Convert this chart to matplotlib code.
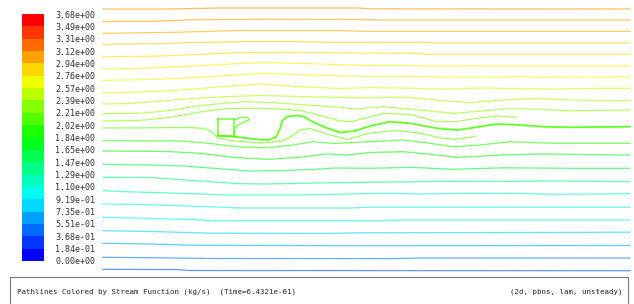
import colorsys
import numpy as np
import matplotlib
matplotlib.use('Agg')
import matplotlib.pyplot as plt
from matplotlib.colors import ListedColormap, LinearSegmentedColormap, BoundaryNorm, Normalize
from matplotlib.patches import Rectangle

# stream function range of the colour scale (kg/s)
psi_max = 3.6757
n_bands = 20
tick_labels = ['0.00e+00', '1.84e-01', '3.68e-01', '5.51e-01', '7.35e-01', '9.19e-01',
               '1.10e+00', '1.29e+00', '1.47e+00', '1.65e+00', '1.84e+00', '2.02e+00',
               '2.21e+00', '2.39e+00', '2.57e+00', '2.76e+00', '2.94e+00', '3.12e+00',
               '3.31e+00', '3.49e+00', '3.68e+00']

title_left = 'Pathlines Colored by Stream Function (kg/s)  (Time=6.4321e-01)'
title_right = '(2d, pbns, lam, unsteady)'

# pathlines, (x, y) along the channel, top to bottom
path_01 = [(103, 9), (170, 9), (200, 8.4), (218, 8), (357, 8), (370, 8.8), (630, 9)]
path_02 = [(103, 21.5), (152, 21.3), (170, 20.7), (190, 19.8), (250, 19.3), (347, 19.4), (380, 20), (630, 20)]
path_03 = [(103, 33.3), (140, 32.8), (175, 32.3), (210, 31.3), (240, 30.5), (340, 30.6), (360, 31.3), (630, 31.3)]
path_04 = [(103, 44.3), (163, 43.6), (190, 42.6), (253, 41.5), (293, 41.6), (335, 42.4), (425, 42.4), (440, 43), (630, 43)]
path_05 = [(103, 56.7), (130, 56.5), (160, 56), (200, 54.3), (240, 52.7), (300, 52.3), (340, 52.9), (410, 53.4),
           (430, 54.3), (630, 54.3)]
path_06 = [(103, 69), (125, 68.8), (150, 67.8), (200, 65.7), (230, 64), (250, 63), (285, 63), (320, 64), (360, 65.2),
           (405, 65.4), (420, 66), (630, 66)]
path_07 = [(103, 80.3), (125, 80), (160, 79.3), (210, 76.7), (250, 74), (270, 73.5), (300, 74.5), (320, 75.3),
           (360, 76.3), (420, 76.3), (440, 77.3), (460, 77), (525, 76.8), (545, 77.4), (565, 77), (630, 76.8)]
path_08 = [(103, 92.7), (140, 92), (180, 90), (223, 86.7), (260, 84), (300, 86.7), (340, 88.5), (370, 87.5),
           (410, 88.2), (445, 89), (480, 88), (515, 88.5), (550, 89), (600, 88.3), (630, 88.3)]
path_09 = [(103, 104), (130, 103.5), (160, 101), (200, 98), (230, 96.5), (260, 95.5), (300, 96.5), (340, 97.5),
           (370, 98), (403, 97), (437, 100), (470, 102.7), (503, 100), (537, 98.3), (570, 100), (630, 100.7)]
path_10 = [(103, 113.7), (140, 113.3), (170, 110.5), (200, 105.5), (243, 101.7), (270, 102.5), (300, 104.5),
           (333, 106.7), (355, 109), (383, 106.7), (420, 110), (453, 113.3), (487, 110.7), (510, 108.3),
           (537, 109.3), (570, 110.7), (630, 110)]
path_11 = [(103, 121), (140, 120.5), (170, 117.5), (200, 112), (227, 108.5), (260, 108.3), (280, 109), (300, 110.5),
           (320, 115.5), (340, 121), (352, 121.5), (370, 117), (383, 113.5), (410, 114.5), (437, 121.7),
           (455, 121.7), (477, 118.3), (497, 116), (517, 117.3)]
path_12 = [(103, 128), (150, 127.8), (190, 127.5), (205, 128.5), (212, 132), (217, 137.5), (230, 140.5), (260, 143),
           (283, 141), (292, 136), (300, 130), (310, 128.5), (327, 134), (347, 139.5), (370, 133), (397, 130.5),
           (420, 133.3), (443, 138.3), (455, 139.3), (475, 136.5)]
path_wake = [(217.5, 135.5), (237, 137), (253, 139), (268, 140), (276, 137), (280, 129), (282, 121), (287, 116.7),
             (297, 115.5), (304, 116.7), (313, 122), (327, 128), (340, 132.5), (355, 131), (370, 126),
             (390, 121.7), (410, 123.3), (437, 128.3), (457, 130), (480, 126.7), (497, 124), (520, 125),
             (543, 126.7), (570, 127.3), (630, 126.7)]
path_square = [(217.5, 119), (234, 119), (234, 135.5), (217.5, 135.5), (217.5, 119)]
path_loop = [(234, 119.5), (242, 117), (248, 117.5), (249, 120), (243, 122.5), (238, 125), (235, 128), (234.5, 135)]
path_13 = [(103, 140.7), (183, 141), (210, 143.5), (240, 147), (267, 147.7), (293, 145), (313, 141.7), (335, 143.5),
           (370, 141.7), (403, 140), (430, 143.3), (453, 146.7), (480, 145), (510, 141.7), (553, 143.3), (630, 143.3)]
path_14 = [(103, 151), (167, 151.5), (200, 153.3), (233, 157.3), (267, 159.3), (300, 157.3), (327, 154), (347, 155),
           (370, 152.5), (403, 151.7), (437, 155), (457, 157.3), (503, 155), (537, 154), (630, 155)]
path_15 = [(103, 164.3), (150, 165), (183, 166), (217, 168.5), (250, 171), (283, 170.5), (313, 169.5), (333, 168),
           (370, 168.3), (410, 167.3), (453, 169.3), (503, 167.8), (570, 168.3), (630, 168.3)]
path_16 = [(103, 177.3), (150, 177.5), (175, 179.3), (210, 181.7), (240, 183.7), (267, 184), (300, 183.3),
           (347, 182.5), (417, 181.7), (450, 181.3), (500, 181.5), (550, 181), (630, 181.7)]
path_17 = [(103, 190.7), (120, 191.5), (160, 192.7), (200, 194), (230, 195), (300, 195), (350, 194), (390, 193.3),
           (420, 194), (470, 193.3), (520, 193.5), (555, 194.3), (630, 193.7)]
path_18 = [(103, 204), (145, 204.5), (170, 205.5), (210, 206.7), (240, 208), (350, 208), (370, 207.2), (630, 207.2)]
path_19 = [(103, 217.3), (145, 218.3), (195, 219.7), (215, 220.8), (377, 220.8), (400, 220), (630, 220)]
path_20 = [(103, 230.7), (150, 231.5), (180, 232.3), (210, 233.2), (327, 233.3), (360, 232.8), (470, 232.6),
           (630, 232.2)]
path_21 = [(103, 243.3), (150, 244), (190, 245.2), (347, 245.7), (630, 245.5)]
path_22 = [(103, 257.3), (160, 257.8), (212, 258.5), (393, 258.6), (420, 258), (630, 258)]
path_23 = [(103, 269.3), (177, 269.6), (190, 270.5), (630, 270.7)]

pathlines = [path_01, path_02, path_03, path_04, path_05, path_06, path_07, path_08, path_09, path_10,
             path_11, path_12, path_13, path_14, path_15, path_16, path_17, path_18, path_19, path_20,
             path_21, path_22, path_23]
path_psi = [3.14, 3.10, 3.04, 2.94, 2.84, 2.76, 2.71, 2.61, 2.48, 2.39,
            2.30, 2.21, 1.99, 1.84, 1.61, 1.38, 1.23, 1.07, 0.92, 0.77,
            0.61, 0.46, 0.31]
wake_psi = 2.10


def band_colours(n):
	cols = []
	for k in range(n):
		hue = 240.0 * (n - 1 - k) / (n - 1)
		cols.append(colorsys.hsv_to_rgb(hue / 360.0, 1.0, 1.0))
	return cols


cols = band_colours(n_bands)
band_cmap = ListedColormap(cols)
line_cmap = LinearSegmentedColormap.from_list('fluent', cols)
levels = np.linspace(0, psi_max, n_bands + 1)
band_norm = BoundaryNorm(levels, n_bands)
line_norm = Normalize(0, psi_max)

fig = plt.figure(figsize=(6.34, 3.04), dpi=100)
fig.patch.set_facecolor('white')

# flow field
ax = fig.add_axes([103 / 634, 32 / 304, 527 / 634, 267 / 304])
ax.set_xlim(103, 630)
ax.set_ylim(272, 5)
ax.axis('off')

for pts, psi in zip(pathlines, path_psi):
	xs, ys = zip(*pts)
	ax.plot(xs, ys, color=line_cmap(line_norm(psi)), lw=0.9, alpha=0.62, clip_on=False)

for pts, lw, al in [(path_wake, 1.3, 0.85), (path_square, 1.1, 0.8), (path_loop, 1.0, 0.7)]:
	xs, ys = zip(*pts)
	ax.plot(xs, ys, color=line_cmap(line_norm(wake_psi)), lw=lw, alpha=al, clip_on=False)

# colour scale
cax = fig.add_axes([22 / 634, 43 / 304, 22 / 634, 247 / 304])
cb = matplotlib.colorbar.ColorbarBase(cax, cmap=band_cmap, norm=band_norm, boundaries=levels,
                                      orientation='vertical')
cb.outline.set_visible(False)
cb.set_ticks(levels)
cb.set_ticklabels(tick_labels)
cax.tick_params(length=0, pad=8, labelsize=6, labelcolor='#333333')
for t in cax.get_yticklabels():
	t.set_fontfamily('DejaVu Sans Mono')

# title box
box = Rectangle((10 / 634, -0.02), 618 / 634, 27 / 304 + 0.02, transform=fig.transFigure,
                fill=False, edgecolor='#777777', lw=0.8)
fig.patches.append(box)
fig.text(17 / 634, 12 / 304, title_left, fontsize=5.3, family='DejaVu Sans Mono', color='#222222', va='center')
fig.text(622 / 634, 12 / 304, title_right, fontsize=5.3, family='DejaVu Sans Mono', color='#222222',
         va='center', ha='right')

fig.savefig('out.png', dpi=100)
